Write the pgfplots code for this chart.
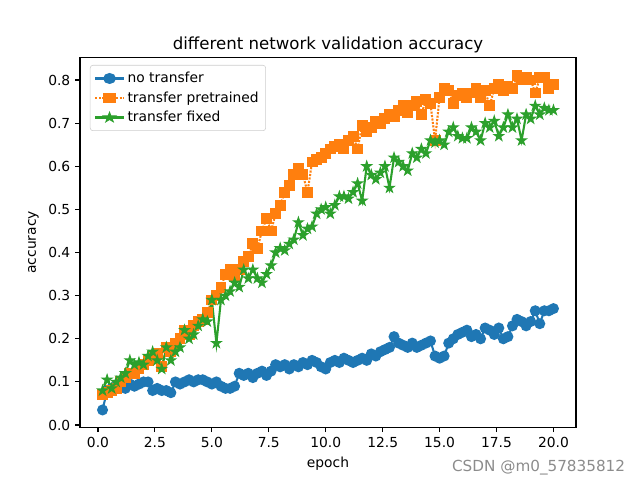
\documentclass[border=0pt]{standalone}
\usepackage{pgfplots}
\pgfplotsset{compat=1.18}
\usepackage{fontspec}
\setmainfont{DejaVu Sans}
\definecolor{tabblue}{HTML}{1F77B4}
\definecolor{taborange}{HTML}{FF7F0E}
\definecolor{tabgreen}{HTML}{2CA02C}
\pgfdeclareplotmark{fstar}{%
  \pgfpathmoveto{\pgfpointpolar{90}{\pgfplotmarksize}}%
  \pgfpathlineto{\pgfpointpolar{126}{0.382\pgfplotmarksize}}%
  \pgfpathlineto{\pgfpointpolar{162}{\pgfplotmarksize}}%
  \pgfpathlineto{\pgfpointpolar{198}{0.382\pgfplotmarksize}}%
  \pgfpathlineto{\pgfpointpolar{234}{\pgfplotmarksize}}%
  \pgfpathlineto{\pgfpointpolar{270}{0.382\pgfplotmarksize}}%
  \pgfpathlineto{\pgfpointpolar{306}{\pgfplotmarksize}}%
  \pgfpathlineto{\pgfpointpolar{342}{0.382\pgfplotmarksize}}%
  \pgfpathlineto{\pgfpointpolar{18}{\pgfplotmarksize}}%
  \pgfpathlineto{\pgfpointpolar{54}{0.382\pgfplotmarksize}}%
  \pgfpathclose
  \pgfusepathqfillstroke}
\begin{document}
\begin{tikzpicture}
\path[use as bounding box] (-0.8in,-0.528in) rectangle (5.6in,4.272in);
\begin{axis}[
  at={(0,0)}, anchor=south west,
  scale only axis, width=4.96in, height=3.696in,
  xmin=-0.79, xmax=20.99, ymin=-0.005, ymax=0.852,
  xtick={0,2.5,5,7.5,10,12.5,15,17.5,20},
  ytick={0,0.1,0.2,0.3,0.4,0.5,0.6,0.7,0.8},
  /pgf/number format/assume math mode=true,
  xticklabel style={/pgf/number format/.cd,fixed,fixed zerofill,precision=1},
  yticklabel style={/pgf/number format/.cd,fixed,fixed zerofill,precision=1},
  tick align=outside, xtick pos=bottom, ytick pos=left,
  major tick length=3.5pt,
  tick style={black, line width=0.8pt},
  axis line style={line width=0.8pt},
  ticklabel style={font=\fontsize{10}{12}\selectfont},
  title={different network validation accuracy},
  title style={font=\fontsize{12}{14}\selectfont, yshift=-6pt},
  xlabel={epoch}, ylabel={accuracy},
  label style={font=\fontsize{10}{12}\selectfont},
  legend style={font=\fontsize{10}{12}\selectfont, draw=black!20, rounded corners=2pt, at={(0.02,0.98)}, anchor=north west, row sep=1pt, inner sep=3pt},
  legend cell align=left,
  legend image post style={xscale=1.2},
]
\addplot[color=tabblue, line width=1.5pt, mark=*, mark size=3.2pt, mark options={solid}] coordinates {
(0.2,0.035)(0.4,0.08)(0.6,0.085)(0.8,0.09)(1.0,0.09)(1.2,0.085)(1.4,0.095)(1.6,0.09)(1.8,0.095)(2.0,0.1)
(2.2,0.1)(2.4,0.08)(2.6,0.085)(2.8,0.08)(3.0,0.08)(3.2,0.075)(3.4,0.1)(3.6,0.095)(3.8,0.1)(4.0,0.105)
(4.2,0.1)(4.4,0.105)(4.6,0.105)(4.8,0.1)(5.0,0.095)(5.2,0.1)(5.4,0.09)(5.6,0.085)(5.8,0.085)(6.0,0.09)
(6.2,0.12)(6.4,0.115)(6.6,0.12)(6.8,0.11)(7.0,0.12)(7.2,0.125)(7.4,0.115)(7.6,0.125)(7.8,0.14)(8.0,0.135)
(8.2,0.14)(8.4,0.13)(8.6,0.14)(8.8,0.135)(9.0,0.145)(9.2,0.14)(9.4,0.15)(9.6,0.145)(9.8,0.135)(10.0,0.13)
(10.2,0.145)(10.4,0.15)(10.6,0.145)(10.8,0.155)(11.0,0.15)(11.2,0.145)(11.4,0.15)(11.6,0.155)(11.8,0.15)(12.0,0.165)
(12.2,0.16)(12.4,0.17)(12.6,0.175)(12.8,0.18)(13.0,0.205)(13.2,0.19)(13.4,0.185)(13.6,0.18)(13.8,0.19)(14.0,0.18)
(14.2,0.185)(14.4,0.19)(14.6,0.195)(14.8,0.16)(15.0,0.155)(15.2,0.16)(15.4,0.19)(15.6,0.2)(15.8,0.21)(16.0,0.215)
(16.2,0.22)(16.4,0.205)(16.6,0.21)(16.8,0.2)(17.0,0.225)(17.2,0.22)(17.4,0.21)(17.6,0.225)(17.8,0.2)(18.0,0.205)
(18.2,0.23)(18.4,0.245)(18.6,0.24)(18.8,0.23)(19.0,0.24)(19.2,0.265)(19.4,0.235)(19.6,0.265)(19.8,0.265)(20.0,0.27)
};
\addlegendentry{no transfer}
\addplot[color=taborange, line width=1.5pt, densely dotted, mark=square*, mark size=3.2pt, mark options={solid}] coordinates {
(0.2,0.07)(0.4,0.075)(0.6,0.08)(0.8,0.085)(1.0,0.1)(1.2,0.11)(1.4,0.12)(1.6,0.12)(1.8,0.13)(2.0,0.14)
(2.2,0.15)(2.4,0.16)(2.6,0.165)(2.8,0.135)(3.0,0.18)(3.2,0.17)(3.4,0.19)(3.6,0.2)(3.8,0.22)(4.0,0.21)
(4.2,0.23)(4.4,0.24)(4.6,0.245)(4.8,0.26)(5.0,0.29)(5.2,0.3)(5.4,0.32)(5.6,0.35)(5.8,0.36)(6.0,0.345)
(6.2,0.36)(6.4,0.38)(6.6,0.39)(6.8,0.42)(7.0,0.41)(7.2,0.45)(7.4,0.48)(7.6,0.45)(7.8,0.49)(8.0,0.51)
(8.2,0.54)(8.4,0.555)(8.6,0.58)(8.8,0.595)(9.0,0.58)(9.2,0.54)(9.4,0.61)(9.6,0.615)(9.8,0.62)(10.0,0.63)
(10.2,0.64)(10.4,0.645)(10.6,0.65)(10.8,0.64)(11.0,0.66)(11.2,0.67)(11.4,0.64)(11.6,0.695)(11.8,0.68)(12.0,0.69)
(12.2,0.705)(12.4,0.7)(12.6,0.71)(12.8,0.72)(13.0,0.715)(13.2,0.73)(13.4,0.74)(13.6,0.725)(13.8,0.74)(14.0,0.75)
(14.2,0.72)(14.4,0.755)(14.6,0.745)(14.8,0.66)(15.0,0.76)(15.2,0.78)(15.4,0.775)(15.6,0.745)(15.8,0.765)(16.0,0.77)
(16.2,0.76)(16.4,0.77)(16.6,0.78)(16.8,0.76)(17.0,0.775)(17.2,0.74)(17.4,0.78)(17.6,0.79)(17.8,0.775)(18.0,0.785)
(18.2,0.78)(18.4,0.81)(18.6,0.8)(18.8,0.805)(19.0,0.8)(19.2,0.77)(19.4,0.805)(19.6,0.805)(19.8,0.78)(20.0,0.79)
};
\addlegendentry{transfer pretrained}
\addplot[color=tabgreen, line width=1.5pt, mark=fstar, mark size=3.6pt, mark options={solid, fill=tabgreen, line width=0.8pt}] coordinates {
(0.2,0.08)(0.4,0.105)(0.6,0.085)(0.8,0.1)(1.0,0.11)(1.2,0.12)(1.4,0.15)(1.6,0.14)(1.8,0.145)(2.0,0.14)
(2.2,0.16)(2.4,0.17)(2.6,0.15)(2.8,0.13)(3.0,0.18)(3.2,0.15)(3.4,0.17)(3.6,0.18)(3.8,0.22)(4.0,0.2)
(4.2,0.21)(4.4,0.23)(4.6,0.245)(4.8,0.24)(5.0,0.29)(5.2,0.19)(5.4,0.29)(5.6,0.3)(5.8,0.31)(6.0,0.33)
(6.2,0.32)(6.4,0.36)(6.6,0.34)(6.8,0.36)(7.0,0.34)(7.2,0.33)(7.4,0.35)(7.6,0.37)(7.8,0.4)(8.0,0.41)
(8.2,0.405)(8.4,0.42)(8.6,0.43)(8.8,0.47)(9.0,0.44)(9.2,0.455)(9.4,0.46)(9.6,0.49)(9.8,0.5)(10.0,0.505)
(10.2,0.49)(10.4,0.51)(10.6,0.53)(10.8,0.53)(11.0,0.525)(11.2,0.54)(11.4,0.56)(11.6,0.52)(11.8,0.6)(12.0,0.58)
(12.2,0.57)(12.4,0.585)(12.6,0.6)(12.8,0.55)(13.0,0.62)(13.2,0.61)(13.4,0.6)(13.6,0.59)(13.8,0.63)(14.0,0.62)
(14.2,0.64)(14.4,0.63)(14.6,0.66)(14.8,0.655)(15.0,0.66)(15.2,0.65)(15.4,0.68)(15.6,0.69)(15.8,0.67)(16.0,0.665)
(16.2,0.665)(16.4,0.69)(16.6,0.68)(16.8,0.66)(17.0,0.7)(17.2,0.69)(17.4,0.705)(17.6,0.67)(17.8,0.69)(18.0,0.72)
(18.2,0.69)(18.4,0.71)(18.6,0.66)(18.8,0.72)(19.0,0.71)(19.2,0.74)(19.4,0.72)(19.6,0.735)(19.8,0.73)(20.0,0.73)
};
\addlegendentry{transfer fixed}
\end{axis}
\node[anchor=south east, text=black!45, font=\fontsize{11}{13}\selectfont] at (5.5in,-0.528in) {CSDN @m0\_57835812};
\end{tikzpicture}
\end{document}
